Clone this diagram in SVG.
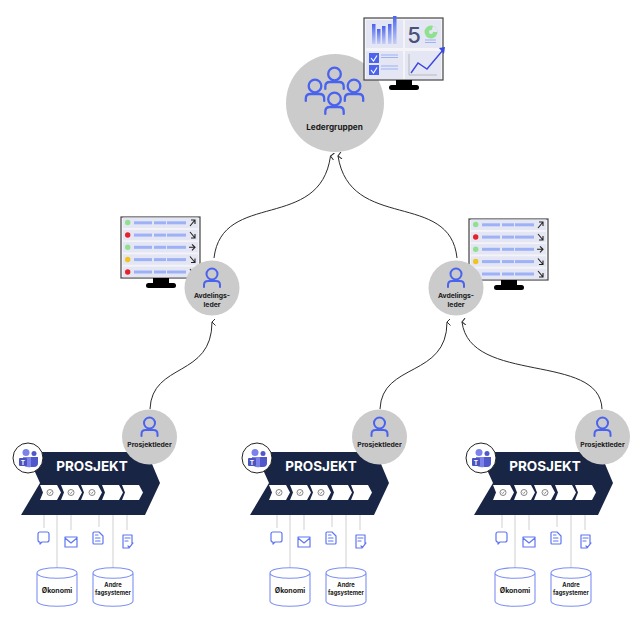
<svg xmlns="http://www.w3.org/2000/svg" xmlns:xlink="http://www.w3.org/1999/xlink" width="642" height="631" viewBox="0 0 642 631">
<style>
.t{font-family:Inter,"Liberation Sans",sans-serif;font-weight:700;fill:#1a1a1a;text-anchor:middle}
.ic{fill:none;stroke:#4a63ee;stroke-width:2;stroke-linecap:round;stroke-linejoin:round}
.ic2{fill:none;stroke:#5f76f0;stroke-width:1.200;stroke-linecap:round;stroke-linejoin:round}
.conn{fill:none;stroke:#2b2b2b;stroke-width:1}
.lk{fill:none;stroke:#cfcfcf;stroke-width:1}
.bar{fill:#9db1f7}
.row{fill:#e4e6f4}
.arr{fill:none;stroke:#222;stroke-width:1.100}
.cyl{fill:#fff;stroke:#7d90f3;stroke-width:1.100}
</style>
<defs>
<marker id="ah" viewBox="0 0 10 10" refX="5" refY="1" markerWidth="7" markerHeight="7" orient="auto" markerUnits="userSpaceOnUse"><path d="M0,6 L5,1 L10,6" fill="none" stroke="#2b2b2b" stroke-width="1.400"/></marker>
<linearGradient id="g" x1="0" y1="0" x2="0" y2="1"><stop offset="0" stop-color="#4a63ee"/><stop offset="1" stop-color="#c7cff5"/></linearGradient>
<g id="person"><circle cx="0" cy="-7" r="5.500" class="ic"/><path d="M-8,6 V4 Q-8,0 -4,0 H4 Q8,0 8,4 V6" class="ic"/></g>
<g id="stand"><rect x="-8" y="0" width="16" height="6" fill="#000"/><rect x="-15" y="5" width="30" height="5" rx="2.500" fill="#000"/></g>
<g id="sr"><rect x="0" y="0" width="75" height="10.500" class="row"/><rect x="11" y="3.800" width="18" height="3" class="bar"/><rect x="31" y="3.800" width="12" height="3" class="bar"/><rect x="44" y="3.800" width="19" height="3" class="bar"/></g>
<g id="statusmon">
<rect x="0" y="0" width="79" height="61" fill="#f4f4f8" stroke="#444" stroke-width="1.200"/>
<use xlink:href="#sr" x="2" y="0.500"/><use xlink:href="#sr" x="2" y="12.800"/><use xlink:href="#sr" x="2" y="25"/><use xlink:href="#sr" x="2" y="37.300"/><use xlink:href="#sr" x="2" y="49.700"/>
<circle cx="6.700" cy="5.500" r="2.700" fill="#8fe08f"/><circle cx="6.700" cy="18" r="2.700" fill="#e8202a"/><circle cx="6.700" cy="30.300" r="2.700" fill="#8fe08f"/><circle cx="6.700" cy="42.500" r="2.700" fill="#f2c31c"/><circle cx="6.700" cy="55" r="2.700" fill="#e8202a"/>
<path class="arr" d="M69,9 L74,3 M70,3 H74 V7"/><path class="arr" d="M69,15 L74,21 M74,17 V21 H70"/><path class="arr" d="M68,30.300 H74 M71,27.300 L74,30.300 L71,33.300"/><path class="arr" d="M69,39.500 L74,45.500 M74,41.500 V45.500 H70"/><path class="arr" d="M69,52 L74,58 M74,54 V58 H70"/>
<use xlink:href="#stand" x="40" y="61"/>
</g>
<g id="chev"><path d="M0,0 H17 L21,7.500 L17,15 H0 L3,7.500 Z" fill="#fff"/></g>
<g id="chk"><circle cx="0" cy="0" r="3" fill="none" stroke="#666" stroke-width=".8"/><path d="M-1.300,0 L-.3,1 L1.400,-1" fill="none" stroke="#666" stroke-width=".7"/></g>
<g id="teams">
<circle cx="0" cy="0" r="15" fill="#fff" stroke="#222" stroke-width="1"/>
<circle cx="-2" cy="-5.500" r="3.500" fill="#7b83eb"/><circle cx="6" cy="-4.500" r="2.500" fill="#5059c9"/>
<path d="M-5,-1 H3 V9 Q-2,10 -5,7 Z" fill="#7b83eb"/><path d="M3,-1 H10 V5 Q10,9 6,9 H3 Z" fill="#5059c9"/>
<rect x="-9" y="0" width="8" height="8" rx="1" fill="#4b53bc"/><text x="-5" y="6.500" font-family="Inter,'Liberation Sans',sans-serif" font-size="6.500" font-weight="700" fill="#fff" text-anchor="middle">T</text>
</g>
<g id="banner">
<path d="M26,452 H147 L160,483 L145,515 H21 L40,483 Z" fill="#182544"/>
<text x="92" y="471" font-family="Inter,'Liberation Sans',sans-serif" font-size="13.500" font-weight="700" fill="#fff" text-anchor="middle">PROSJEKT</text>
<use xlink:href="#chev" x="40" y="485"/><use xlink:href="#chev" x="61" y="485"/><use xlink:href="#chev" x="81" y="485"/><use xlink:href="#chev" x="102" y="485"/><use xlink:href="#chev" x="122" y="485"/>
<use xlink:href="#chk" x="50" y="492.500"/><use xlink:href="#chk" x="71" y="492.500"/><use xlink:href="#chk" x="92" y="492.500"/>
<use xlink:href="#teams" x="28" y="458"/>
</g>
<g id="pl"><circle cx="0" cy="0" r="27.500" fill="#cbcbcb"/><use xlink:href="#person" x="0" y="-7"/><text class="t" x="0" y="10" font-size="6.800">Prosjektleder</text></g>
<g id="av"><circle cx="0" cy="0" r="27.500" fill="#cbcbcb"/><use xlink:href="#person" x="0" y="-7"/><text class="t" x="0" y="10" font-size="6.800">Avdelings-</text><text class="t" x="0" y="19" font-size="6.800">leder</text></g>
<g id="sys">
<path class="lk" d="M44,515 V528 M57,515 V571 M71,515 V530 M99,515 V527 M113,515 V571 M127,515 V530"/>
<path class="ic2" d="M40,532 H47 Q49,532 49,534 V540 Q49,542 47,542 H42 L40,544 V542 Q38,542 38,540 V534 Q38,532 40,532 Z"/>
<path class="ic2" d="M65,537 H77 V547 H65 Z M65,538 L71,543 L77,538"/>
<path class="ic2" d="M94,532 H99 L103,536 V543 Q103,544 102,544 H94 Q93,544 93,543 V533 Q93,532 94,532 Z M95.500,538 H100 M95.500,541 H100 M95.500,535 H98"/>
<path class="ic2" d="M123,535 H132 V544 L129,548 H123 Z M125,538 H130 M125,541 H128 M128,546 L129.500,547.500 L133,543"/>
<path class="cyl" d="M37,573 V601 C37,608 77,608 77,601 V573 C77,566 37,566 37,573 C37,580 77,580 77,573"/>
<path class="cyl" d="M93,573 V601 C93,608 133,608 133,601 V573 C133,566 93,566 93,573 C93,580 133,580 133,573"/>
<text class="t" x="57" y="593" font-size="7">Økonomi</text>
<text class="t" x="113" y="587" font-size="5.800">Andre</text><text class="t" x="113" y="595" font-size="5.800">fagsystemer</text>
</g>
</defs>
<rect width="642" height="631" fill="#fff"/>
<g id="connectors">
<path class="conn" marker-end="url(#ah)" d="M214,258 C222,190 320,232 330.500,156"/>
<path class="conn" marker-end="url(#ah)" d="M457,258 C450,190 350,232 338,156"/>
<path class="conn" marker-end="url(#ah)" d="M150,409 C152,362 212,378 212,322"/>
<path class="conn" marker-end="url(#ah)" d="M380,409 C382,362 447,378 447,322"/>
<path class="conn" marker-end="url(#ah)" d="M602,409 C600,352 470,385 462,322"/>
</g>
<g id="ledergruppen">
<circle cx="335" cy="103" r="49" fill="#cbcbcb"/>
<g transform="translate(334.500,82) scale(1.150)"><use xlink:href="#person"/></g>
<g transform="translate(315,94) scale(1.150)"><use xlink:href="#person"/></g>
<g transform="translate(354,94) scale(1.150)"><use xlink:href="#person"/></g>
<g transform="translate(334.500,107) scale(1.150)"><use xlink:href="#person"/></g>
<text class="t" x="334.500" y="130" font-size="8.200">Ledergruppen</text>
</g>
<g id="dashboard">
<rect x="364" y="18" width="79" height="62" fill="#f4f4f8" stroke="#444" stroke-width="1.200"/>
<rect x="366" y="20" width="37" height="28" fill="#e4e6f4"/><rect x="405" y="20" width="36" height="28" fill="#e4e6f4"/><rect x="366" y="51" width="37" height="28" fill="#e4e6f4"/><rect x="405" y="51" width="36" height="28" fill="#e4e6f4"/>
<rect x="372" y="24" width="3.500" height="20" fill="url(#g)"/><rect x="377" y="29" width="3.500" height="15" fill="url(#g)"/><rect x="382" y="26" width="3.500" height="18" fill="url(#g)"/><rect x="388" y="24" width="3.500" height="20" fill="url(#g)"/><rect x="393" y="16" width="3.500" height="28" fill="url(#g)"/>
<text x="414" y="43" font-family="Inter,'Liberation Sans',sans-serif" font-size="22" font-weight="500" fill="#4b5278" text-anchor="middle">5</text>
<circle cx="431" cy="32" r="6.500" fill="#8fe08f"/><path d="M431,32 L437.500,32 A6.500,6.500 0 0,0 433,26 Z" fill="#e4e6f4"/><circle cx="431" cy="32" r="2" fill="#e4e6f4"/>
<path d="M425,40 H436 M425,42.500 H436" stroke="#9db1f7" stroke-width="1"/>
<rect x="369" y="53" width="10" height="10" fill="#4a63ee"/><rect x="369" y="65" width="10" height="10" fill="#4a63ee"/>
<path d="M371,58 L373.500,61 L377,55.500 M371,70 L373.500,73 L377,67.500" fill="none" stroke="#fff" stroke-width="1.100"/>
<path d="M381,55 H398 M381,57.500 H398 M381,66 H398 M381,69 H398" stroke="#9db1f7" stroke-width="1"/>
<path d="M409,54 V75 H437" fill="none" stroke="#888" stroke-width=".5"/>
<path d="M411,73 L418,63 L427,69 L443,50" fill="none" stroke="#3c48e0" stroke-width="1.400"/><path d="M439,48 L445,47 L444,54 Z" fill="#3c48e0"/>
<use xlink:href="#stand" x="404" y="80"/>
</g>
<g id="status-left"><use xlink:href="#statusmon" x="121" y="217"/></g>
<g id="status-right"><use xlink:href="#statusmon" x="469" y="219"/></g>
<g id="avdeling-left"><use xlink:href="#av" x="212" y="288"/></g>
<g id="avdeling-right"><use xlink:href="#av" x="456" y="288"/></g>
<g id="prosjekt-1"><use xlink:href="#banner"/><use xlink:href="#sys"/><use xlink:href="#pl" x="149.500" y="437"/></g>
<g id="prosjekt-2"><use xlink:href="#banner" x="229"/><use xlink:href="#sys" x="233"/><use xlink:href="#pl" x="379.500" y="437"/></g>
<g id="prosjekt-3"><use xlink:href="#banner" x="453"/><use xlink:href="#sys" x="458"/><use xlink:href="#pl" x="602.500" y="437"/></g>
</svg>
